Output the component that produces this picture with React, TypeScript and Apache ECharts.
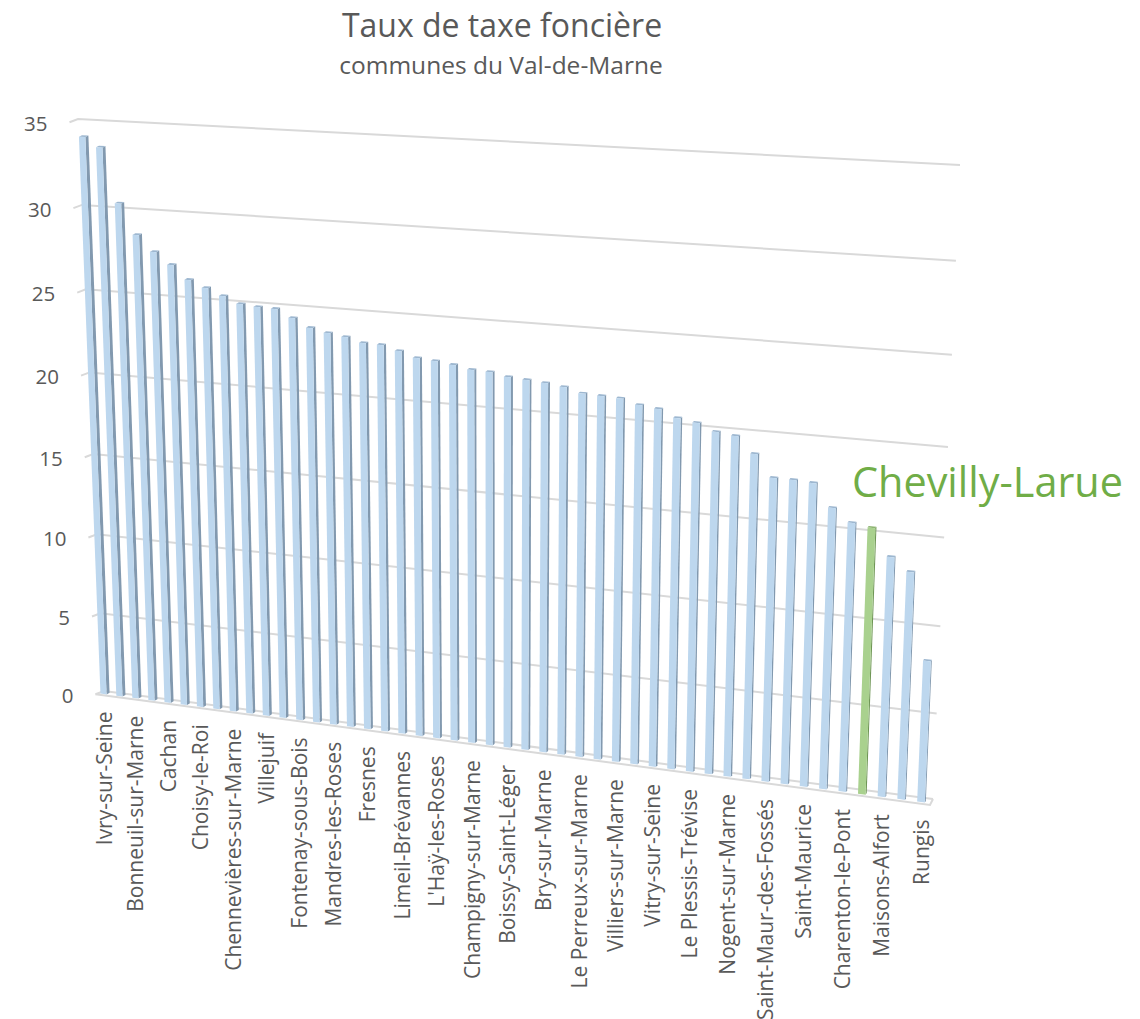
import React, { useEffect, useRef } from "react";
import * as echarts from "echarts";

const categories = [
  "Ivry-sur-Seine", "", "Bonneuil-sur-Marne", "", "Cachan", "", "Choisy-le-Roi", "",
  "Chennevières-sur-Marne", "", "Villejuif", "", "Fontenay-sous-Bois", "", "Mandres-les-Roses", "",
  "Fresnes", "", "Limeil-Brévannes", "", "L'Haÿ-les-Roses", "", "Champigny-sur-Marne", "",
  "Boissy-Saint-Léger", "", "Bry-sur-Marne", "", "Le Perreux-sur-Marne", "", "Villiers-sur-Marne", "",
  "Vitry-sur-Seine", "", "Le Plessis-Trévise", "", "Nogent-sur-Marne", "", "Saint-Maur-des-Fossés", "",
  "Saint-Maurice", "", "Charenton-le-Pont", "Chevilly-Larue", "Maisons-Alfort", "", "Rungis",
];
const values = [
  34.02, 33.46, 30.26, 28.48, 27.55, 26.86, 26.05, 25.65, 25.25, 24.86, 24.76, 24.72,
  24.27, 23.77, 23.55, 23.4, 23.13, 23.1, 22.83, 22.51, 22.42, 22.28, 22.08, 22.04,
  21.84, 21.76, 21.67, 21.53, 21.25, 21.2, 21.15, 20.87, 20.74, 20.32, 20.14, 19.73,
  19.6, 18.69, 17.45, 17.44, 17.37, 16.09, 15.36, 15.19, 13.68, 12.96, 8.09,
];
const yTicks = [0, 5, 10, 15, 20, 25, 30, 35];
const highlighted = "Chevilly-Larue";
const titleText = "Taux de taxe foncière";
const subtitleText = "communes du Val-de-Marne";

type Pt = [number, number];

function makeProjection(p00: Pt, p10: Pt, p11: Pt, p01: Pt) {
  const dx1 = p10[0] - p11[0], dx2 = p01[0] - p11[0], sx = p00[0] - p10[0] + p11[0] - p01[0];
  const dy1 = p10[1] - p11[1], dy2 = p01[1] - p11[1], sy = p00[1] - p10[1] + p11[1] - p01[1];
  const den = dx1 * dy2 - dx2 * dy1;
  const g = (sx * dy2 - dx2 * sy) / den;
  const h = (dx1 * sy - sx * dy1) / den;
  const a = p10[0] - p00[0] + g * p10[0];
  const b = p01[0] - p00[0] + h * p01[0];
  const d = p10[1] - p00[1] + g * p10[1];
  const e = p01[1] - p00[1] + h * p01[1];
  return (s: number, t: number): Pt => {
    const w = g * s + h * t + 1;
    return [(a * s + b * t + p00[0]) / w, (d * s + e * t + p00[1]) / w];
  };
}

// perspective planes of the 3D chart
const barPlane = makeProjection([103.5, 694], [921, 802], [948, 162], [81.5, 120]);
const wallPlane = makeProjection([104, 691], [933, 799], [960, 165], [78, 119]);

const GRID = { left: 100, top: 100, width: 900, height: 700 };
const GREY = "#D9D9D9";
const TEXT = "#595959";
const FONT = "'Open Sans', sans-serif";

function toUnit(c: number[]): Pt {
  return [(c[0] - GRID.left) / GRID.width, (GRID.top + GRID.height - c[1]) / GRID.height];
}

function renderGrid(_: any, api: any) {
  const v = api.value(1);
  const [s0, t] = toUnit(api.coord([0, v]));
  const [s1] = toUnit(api.coord([categories.length - 1, v]));
  const a = wallPlane(s0, t);
  const b = wallPlane(s1, t);
  const front: Pt = [a[0] - 8.5, a[1] + 3.2];
  const lineStyle = { stroke: GREY, lineWidth: 2, fill: "none" };
  const children: any[] = [
    { type: "polyline", shape: { points: [front, a, b] }, style: lineStyle },
    {
      type: "text",
      style: {
        text: String(v), x: front[0] - 22, y: front[1] + 0.5, align: "right", verticalAlign: "middle",
        fill: TEXT, font: `20.5px ${FONT}`,
      },
    },
  ];
  if (v === 0) {
    children.push({
      type: "polyline",
      shape: { points: [b, [b[0] - 3, b[1] + 6], front] },
      style: lineStyle,
    });
  }
  return { type: "group", children };
}

function renderBar(_: any, api: any) {
  const i = api.value(0);
  const v = api.value(1);
  const [s, t] = toUnit(api.coord([i, v]));
  const [, t0] = toUnit(api.coord([i, 0]));
  const hw = 0.0042;
  const bl = barPlane(s - hw, t0), br = barPlane(s + hw, t0);
  const tl = barPlane(s - hw, t), tr = barPlane(s + hw, t);
  const dx = 3 - 2 * s, dy = -1.6;
  const add = (p: Pt): Pt => [p[0] + dx, p[1] + dy];
  const isHi = categories[i] === highlighted;
  const frontFill = isHi ? "#A9D18E" : "#BDD7EE";
  const sideFill = isHi ? "#6F9656" : "#8299AF";
  const topFill = isHi ? "#8DB472" : "#9DB7D0";
  return {
    type: "group",
    children: [
      { type: "polygon", shape: { points: [tr, br, add(br), add(tr)] }, style: { fill: sideFill } },
      { type: "polygon", shape: { points: [tl, tr, add(tr), add(tl)] }, style: { fill: topFill } },
      { type: "polygon", shape: { points: [tl, tr, br, bl] }, style: { fill: frontFill } },
    ],
  };
}

function renderCategory(_: any, api: any) {
  const i = api.value(0);
  const [s, t] = toUnit(api.coord([i, 0]));
  const p = barPlane(s, t);
  return {
    type: "text",
    x: p[0],
    y: p[1] + 17.5,
    rotation: Math.PI / 2,
    style: {
      text: categories[i], x: 0, y: 0, align: "right", verticalAlign: "middle",
      fill: TEXT, font: `21px ${FONT}`,
    },
  };
}

export default function App() {
  const ref = useRef<HTMLDivElement>(null);
  useEffect(() => {
    const chart = echarts.init(ref.current!, undefined, { renderer: "svg" });
    const labelled = categories
      .map((c, i) => [i, 0, c] as any[])
      .filter((d) => d[0] % 2 === 0 && d[2] !== "");
    chart.setOption({
      animation: false,
      backgroundColor: "#FFFFFF",
      title: [
        {
          text: titleText, left: 497, top: 3, textAlign: "center",
          textStyle: { color: TEXT, fontFamily: FONT, fontSize: 32, fontWeight: "normal" },
        },
        {
          text: subtitleText, left: 496, top: 47, textAlign: "center",
          textStyle: { color: TEXT, fontFamily: FONT, fontSize: 24.5, fontWeight: "normal" },
        },
      ],
      grid: { ...GRID },
      xAxis: { type: "category", data: categories, boundaryGap: false, show: false },
      yAxis: { type: "value", min: 0, max: 35, interval: 5, show: false },
      series: [
        { type: "custom", renderItem: renderGrid, data: yTicks.map((v) => [0, v]), silent: true },
        { type: "custom", renderItem: renderBar, data: values.map((v, i) => [i, v]), silent: true },
        { type: "custom", renderItem: renderCategory, data: labelled, silent: true },
      ],
      graphic: [
        {
          type: "text", left: 852, top: 460,
          style: { text: highlighted, fill: "#70AD47", font: `41.4px ${FONT}` },
        },
      ],
    });
    return () => chart.dispose();
  }, []);
  return (
    <div
      ref={ref}
      style={{ position: "absolute", left: 0, top: 0, width: 1140, height: 1019, background: "#fff" }}
    />
  );
}
